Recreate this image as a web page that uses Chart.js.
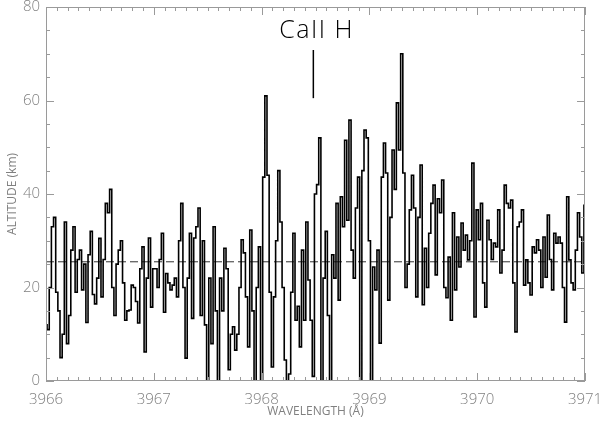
<!DOCTYPE html>
<html>
<head>
<meta charset="utf-8">
<script src="https://cdn.jsdelivr.net/npm/chart.js@4.4.1/dist/chart.umd.min.js"></script>
<style>
  html, body { margin: 0; padding: 0; background: #fff; }
  #wrap { width: 600px; height: 426px; }
</style>
</head>
<body>
<div id="wrap"><canvas id="spec" width="600" height="426"></canvas></div>
<script>
// wavelength sampling of the profile (Å)
const WAVE_START = 3966;
const WAVE_STEP = 0.02;

// altitude per wavelength bin (km)
const altitudes = [
  12, 11, 20, 33, 35, 19, 15, 5, 10, 34,
  8, 14, 28, 33, 19, 26, 28, 19.5, 25, 12.5,
  27, 32, 18.5, 16.5, 22, 30.5, 18, 26, 38, 36,
  41, 20, 14, 25, 28, 30, 21, 13, 15, 15.2,
  20.5, 20, 17, 12.4, 24, 28.7, 6.2, 22, 30.6, 15.8,
  24, 24, 20, 26, 31.6, 14.7, 23, 21, 19.5, 20.5,
  22, 18, 30, 38, 20, 4.9, 22, 31.6, 13.4, 30.6,
  33, 37, 14, 30, 12, 0, 22, 8, 33, 15,
  0, 22, 15, 28.4, 24, 2.4, 10, 11.6, 6.6, 10,
  20, 30.2, 27.4, 18, 7.3, 32.3, 15, 0, 20, 28.7,
  0, 43.6, 61, 44, 19, 3, 18, 30, 45, 34,
  20, 4.5, 0, 1.5, 19, 31.6, 13, 16, 7.3, 28,
  13, 34, 21.6, 13, 1, 40, 42, 52, 0, 22,
  32, 14, 0, 27, 22, 38, 17.3, 39.4, 33, 51.5,
  34.4, 55.8, 28, 22, 37, 43.6, 0, 45, 53.7, 52,
  30, 0, 24.4, 19.5, 28, 8.1, 43.6, 50.9, 44.5, 17.3,
  35, 49.4, 41, 59.5, 49.4, 70, 44.5, 20, 25, 36.6,
  44, 37, 18, 35, 46.2, 16.3, 28.4, 20, 31.6, 38,
  41.9, 22.7, 39, 36, 43, 20, 17.8, 26.5, 13, 36,
  19.5, 30.8, 24.4, 33.8, 28, 31.2, 25.9, 30, 46.6, 13.7,
  36.6, 30.2, 38, 21, 15.8, 34.4, 30.2, 26, 29.5, 28.7,
  36.6, 23.1, 28, 41.9, 38, 37, 38.7, 21, 10.5, 33,
  34, 36.6, 20.5, 25.9, 21, 18.4, 28.7, 27.4, 30.2, 28,
  20, 30.8, 22.2, 35.5, 26, 19.5, 31.6, 29.5, 30.8, 29.5,
  20, 12.6, 39.4, 25.9, 21, 19.5, 28, 36, 30.8, 23.1,
  37.6
];

const baselineAlt = 25.5;
const xTicks = [3966, 3967, 3968, 3969, 3970, 3971];
const yTicks = [0, 20, 40, 60, 80];

// Ca II H line marker
const lineLabel = 'CaII H';
const lineWave = 3968.48;
const lineMarkAlt = [60.5, 70.8];
const labelWave = 3968.51;
const labelAlt = 75;

const AXIS_GREY = '#9a9a9a';
const TEXT_GREY = '#808080';
const FONT = '"Open Sans", "DejaVu Sans", sans-serif';

const wavelengths = altitudes.map((_, i) => WAVE_START + i * WAVE_STEP);
const profile = wavelengths.map((w, i) => ({ x: w, y: altitudes[i] }));

// IDL style box: frame with inward ticks on all four sides
const frameTicks = {
    id: 'frameTicks',
    afterDatasetsDraw(chart) {
        const { ctx, chartArea: a, scales: { x, y } } = chart;
        ctx.save();
        ctx.strokeStyle = AXIS_GREY;
        ctx.lineWidth = 1;
        ctx.strokeRect(a.left + 0.5, a.top + 0.5, a.right - a.left - 1, a.bottom - a.top - 1);
        ctx.beginPath();
        for (let k = 0; k <= 50; k++) {
            const px = Math.round(x.getPixelForValue(xTicks[0] + k * 0.1)) + 0.5;
            const len = k % 10 === 0 ? 8 : 4;
            ctx.moveTo(px, a.bottom); ctx.lineTo(px, a.bottom - len);
            ctx.moveTo(px, a.top); ctx.lineTo(px, a.top + len);
        }
        for (let k = 0; k <= 16; k++) {
            const py = Math.round(y.getPixelForValue(k * 5)) + 0.5;
            const len = k % 4 === 0 ? 8 : 4;
            ctx.moveTo(a.left, py); ctx.lineTo(a.left + len, py);
            ctx.moveTo(a.right, py); ctx.lineTo(a.right - len, py);
        }
        ctx.stroke();

        // line identification
        ctx.fillStyle = '#000';
        ctx.font = '300 25px ' + FONT;
        ctx.letterSpacing = '1.5px';
        ctx.textAlign = 'center';
        ctx.textBaseline = 'middle';
        ctx.fillText(lineLabel, x.getPixelForValue(labelWave), y.getPixelForValue(labelAlt));
        ctx.restore();
    }
};

new Chart(document.getElementById('spec'), {
    type: 'line',
    data: {
        datasets: [
            {
                data: profile,
                borderColor: '#000',
                borderWidth: 1.6,
                stepped: 'middle',
                pointRadius: 0,
                fill: false
            },
            {
                data: [{ x: xTicks[0], y: baselineAlt }, { x: xTicks[xTicks.length - 1], y: baselineAlt }],
                borderColor: '#333',
                borderWidth: 1,
                borderDash: [8, 4],
                pointRadius: 0
            },
            {
                data: [{ x: lineWave, y: lineMarkAlt[0] }, { x: lineWave, y: lineMarkAlt[1] }],
                borderColor: '#000',
                borderWidth: 1.5,
                pointRadius: 0
            }
        ]
    },
    options: {
        responsive: false,
        animation: false,
        devicePixelRatio: 1,
        layout: { padding: { top: 7, right: 15, left: 0, bottom: 0 } },
        plugins: { legend: { display: false }, tooltip: { enabled: false } },
        scales: {
            x: {
                type: 'linear',
                min: xTicks[0],
                max: xTicks[xTicks.length - 1],
                afterBuildTicks: (s) => { s.ticks = xTicks.map(v => ({ value: v })); },
                afterFit: (s) => { s.height = 45; s.paddingLeft = 0; s.paddingRight = 0; },
                grid: { display: false, drawTicks: false },
                border: { display: false },
                ticks: {
                    color: TEXT_GREY,
                    font: { family: FONT, size: 15, weight: 300 },
                    padding: 10,
                    maxRotation: 0,
                    callback: (v) => String(v)
                },
                title: {
                    display: true,
                    text: 'WAVELENGTH (Å)',
                    color: TEXT_GREY,
                    font: { family: FONT, size: 12, weight: 400 },
                    padding: { top: 0, bottom: 7 }
                }
            },
            y: {
                min: yTicks[0],
                max: yTicks[yTicks.length - 1],
                afterBuildTicks: (s) => { s.ticks = yTicks.map(v => ({ value: v })); },
                afterFit: (s) => { s.width = 46; s.paddingTop = 0; s.paddingBottom = 0; },
                grid: { display: false, drawTicks: false },
                border: { display: false },
                ticks: {
                    color: TEXT_GREY,
                    font: { family: FONT, size: 15, weight: 300 },
                    padding: 6
                },
                title: {
                    display: true,
                    text: 'ALTITUDE (km)',
                    color: TEXT_GREY,
                    font: { family: FONT, size: 12, weight: 400 },
                    padding: { top: 5, bottom: 0 }
                }
            }
        }
    },
    plugins: [frameTicks]
});
</script>
</body>
</html>
